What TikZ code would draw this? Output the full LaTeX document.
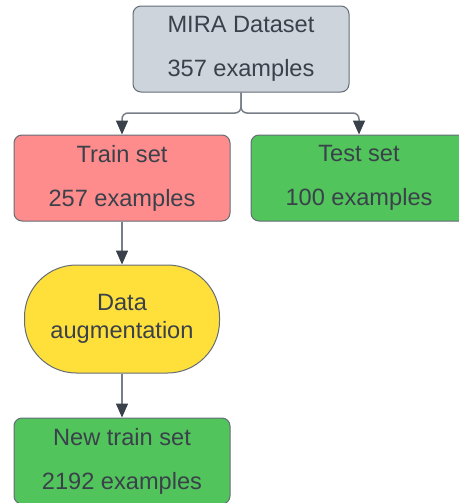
\documentclass[tikz,border=0pt]{standalone}
\usepackage{fontspec}
\setmainfont{Liberation Sans}
\usetikzlibrary{arrows.meta,positioning,calc}
\definecolor{inkgray}{RGB}{58,65,74}
\definecolor{edgegray}{RGB}{100,108,118}
\definecolor{linegray}{RGB}{120,126,136}
\definecolor{dataslate}{RGB}{206,212,220}
\definecolor{trainpink}{RGB}{255,140,140}
\definecolor{setgreen}{RGB}{82,196,92}
\definecolor{augyellow}{RGB}{255,224,58}
\tikzset{setbox/.style={draw=edgegray, fill=#1, rounded corners=4pt,
             minimum width=108pt, minimum height=43pt, align=center,
             text=inkgray, line width=0.5pt, inner sep=0pt,
             font=\fontsize{11.8}{22}\selectfont},
         flow/.style={draw=linegray, line width=0.75pt,
             -{Triangle[length=7pt,width=6pt,color=inkgray,fill=inkgray]}}}

\begin{document}
\begin{tikzpicture}[x=0.5pt,y=-0.5pt]
          \useasboundingbox (0,0) rectangle (459,503);
          \node[setbox=dataslate] (mira)  at (241,49)  {MIRA Dataset\\357 examples};
          \node[setbox=trainpink] (train) at (122,178) {Train set\\257 examples};
          \node[setbox=setgreen]  (test)  at (359,178) {Test set\\100 examples};
          \node[setbox=augyellow, rounded corners=26pt, minimum width=97.5pt,
                minimum height=54pt, font=\fontsize{11.8}{14}\selectfont]
                (aug) at (122,319) {Data\\augmentation};
          \node[setbox=setgreen]  (newtrain) at (122,461) {New train set\\2192 examples};
          % split below the dataset
          \coordinate (split) at (241,113);
          \draw[flow, rounded corners=3pt] (mira.south) -- (split) -| (train.north);
          \draw[flow, rounded corners=3pt] (mira.south) -- (split) -| (test.north);
          \draw[flow] (train) -- (aug);
          \draw[flow] (aug) -- (newtrain);
        \end{tikzpicture}
\end{document}
